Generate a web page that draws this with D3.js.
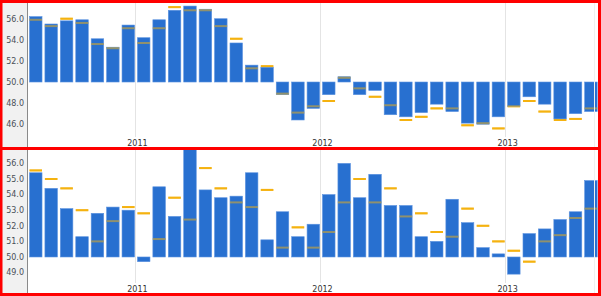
<!DOCTYPE html>
<html><head><meta charset="utf-8">
<script src="https://cdn.jsdelivr.net/npm/d3@7"></script>
<style>body{margin:0;background:#fff}svg{display:block}</style>
</head><body>
<script>
const months = ["2010-06","2010-07","2010-08","2010-09","2010-10","2010-11","2010-12",
  "2011-01","2011-02","2011-03","2011-04","2011-05","2011-06","2011-07","2011-08","2011-09","2011-10","2011-11","2011-12",
  "2012-01","2012-02","2012-03","2012-04","2012-05","2012-06","2012-07","2012-08","2012-09","2012-10","2012-11","2012-12",
  "2013-01","2013-02","2013-03","2013-04","2013-05","2013-06"];
const topBars  = [56.2,55.5,55.8,55.9,54.1,53.3,55.4,54.2,55.9,56.8,57.2,56.9,56.0,53.7,51.6,51.4,48.8,46.4,47.5,48.8,50.5,48.8,49.2,46.9,46.7,47.1,47.9,47.2,46.1,46.0,46.7,47.7,48.6,47.9,46.5,47.0,47.2];
const topMarks = [55.9,55.3,56.0,55.6,53.6,53.2,55.1,53.7,55.1,57.1,56.8,56.8,55.3,54.1,51.3,51.5,48.9,47.1,47.7,48.2,50.4,49.4,48.6,47.8,46.4,46.7,47.5,47.5,45.9,46.1,45.6,47.7,48.2,47.2,46.4,46.5,47.5];
const botBars  = [55.4,54.4,53.1,51.3,52.8,53.2,53.0,49.7,54.5,52.6,57.3,54.3,53.8,53.9,55.4,51.1,52.9,51.3,52.1,54.0,56.0,53.8,55.3,53.3,53.3,51.3,51.0,53.7,52.2,50.6,50.2,48.9,51.5,51.8,52.4,52.9,54.9];
const botMarks = [55.55,55.0,54.4,53.0,51.0,52.3,53.2,52.8,51.15,53.8,52.4,55.7,54.4,53.5,53.2,54.3,50.6,51.9,50.6,51.6,53.5,55.0,53.5,54.4,52.6,52.8,51.6,51.3,53.1,52.0,51.0,50.4,49.7,51.0,51.4,52.5,53.1];
const topTicks = [46,48,50,52,54,56];
const botTicks = [49,50,51,52,53,54,55,56];
const yearStarts = ["2011-01","2012-01","2013-01"];
const yearLabels = ["2011","2012","2013"];
const baseline = 50;

const W = 601, H = 296;
const BLUE = "#2870d0", ORANGE = "#f5b20f";
const svg = d3.select("body").append("svg").attr("width", W).attr("height", H);

const x = d3.scaleBand().domain(months).range([27, 597.6]).paddingInner(0).paddingOuter(0);
const inset = 2.5, bw = x.bandwidth() - 2.9;

const panels = [
  {bars: topBars, marks: topMarks, ticks: topTicks,
   y: d3.scaleLinear().domain([44, 57.5]).range([145.3, 2.9]), top: 3, bottom: 147, labelY: 145.5},
  {bars: botBars, marks: botMarks, ticks: botTicks,
   y: d3.scaleLinear().domain([47.8, 57]).range([291.3, 147.8]), top: 150, bottom: 293, labelY: 292}
];

// left gray strip
svg.append("rect").attr("x", 0).attr("y", 0).attr("width", 27).attr("height", H).attr("fill", "#f1f1f1");

const defs = svg.append("defs");
panels.forEach((p, i) => {
  defs.append("clipPath").attr("id", "clip" + i).append("rect")
    .attr("x", 27).attr("y", p.top).attr("width", 572).attr("height", p.bottom - p.top);
  const g = svg.append("g").attr("clip-path", `url(#clip${i})`);
  // year gridlines
  g.selectAll("line.grid").data(yearStarts).join("line")
    .attr("x1", d => Math.round(x(d)) + 0.5).attr("x2", d => Math.round(x(d)) + 0.5)
    .attr("y1", p.top).attr("y2", p.bottom - 10)
    .attr("stroke", "#e4e4e4").attr("stroke-width", 1);
  // markers behind bars (full colour)
  g.selectAll("line.m1").data(p.marks).join("line")
    .attr("x1", (d, j) => x(months[j]) + inset).attr("x2", (d, j) => x(months[j]) + inset + bw)
    .attr("y1", d => p.y(d)).attr("y2", d => p.y(d))
    .attr("stroke", ORANGE).attr("stroke-width", 2);
  // bars
  g.selectAll("rect.bar").data(p.bars).join("rect")
    .attr("x", (d, j) => x(months[j]) + inset).attr("width", bw)
    .attr("y", d => Math.min(p.y(d), p.y(baseline)))
    .attr("height", d => Math.abs(p.y(d) - p.y(baseline)))
    .attr("fill", BLUE).attr("stroke", "#5b92df").attr("stroke-width", 0.6);
  // markers over bars (semi-transparent)
  g.selectAll("line.m2").data(p.marks).join("line")
    .attr("x1", (d, j) => x(months[j]) + inset).attr("x2", (d, j) => x(months[j]) + inset + bw)
    .attr("y1", d => p.y(d)).attr("y2", d => p.y(d))
    .attr("stroke", ORANGE).attr("stroke-width", 2).attr("opacity", 0.5);
  // y tick labels
  svg.append("g").selectAll("text").data(p.ticks).join("text")
    .attr("x", 24).attr("y", d => p.y(d)).attr("dy", "0.35em")
    .attr("text-anchor", "end").attr("font-family", "DejaVu Sans, Verdana, sans-serif")
    .attr("font-size", 8).attr("fill", "#4a4f57")
    .text(d => d3.format(".1f")(d));
  // year labels
  svg.append("g").selectAll("text").data(yearStarts).join("text")
    .attr("x", d => x(d) + 2.5).attr("y", p.labelY)
    .attr("text-anchor", "middle").attr("font-family", "DejaVu Sans, Verdana, sans-serif")
    .attr("font-size", 8).attr("fill", "#333")
    .text((d, j) => yearLabels[j]);
});

// vertical axis line
svg.append("line").attr("x1", 27.5).attr("x2", 27.5).attr("y1", 0).attr("y2", H)
  .attr("stroke", "#8a8a8a").attr("stroke-width", 1);
// faint right border of plot
svg.append("line").attr("x1", 594.5).attr("x2", 594.5).attr("y1", 0).attr("y2", H)
  .attr("stroke", "#f0f0f0").attr("stroke-width", 1);

// red panel frames
svg.append("rect").attr("x", 1).attr("y", 1.5).attr("width", 598.5).attr("height", 147)
  .attr("fill", "none").attr("stroke", "#ff0000").attr("stroke-width", 3);
svg.append("rect").attr("x", 1).attr("y", 148.5).attr("width", 598.5).attr("height", 146)
  .attr("fill", "none").attr("stroke", "#ff0000").attr("stroke-width", 3);
</script>
</body></html>
